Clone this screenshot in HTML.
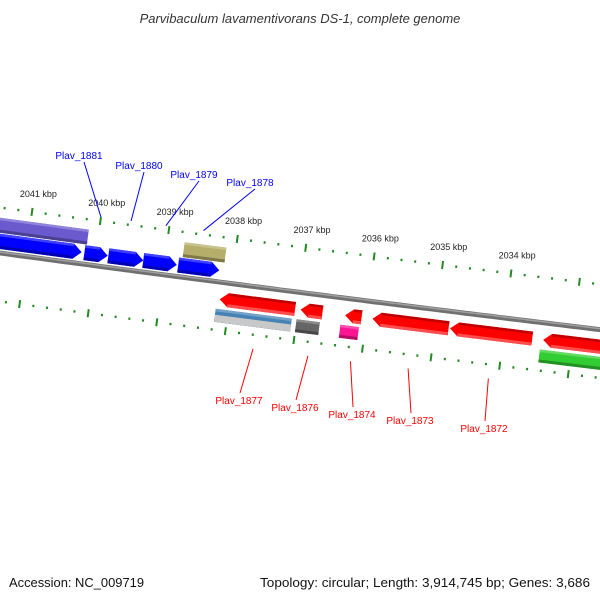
<!DOCTYPE html>
<html><head><meta charset="utf-8">
<style>
html,body{margin:0;padding:0;background:#fff;}
svg{display:block;font-family:"Liberation Sans","DejaVu Sans",sans-serif;}
</style></head>
<body>
<svg id="chart" width="600" height="600" viewBox="0 0 600 600">
<text x="300" y="23" text-anchor="middle" font-size="13" font-style="italic" fill="#333">Parvibaculum lavamentivorans DS-1, complete genome</text>
<text x="9" y="587" font-size="13" fill="#111" textLength="135" lengthAdjust="spacingAndGlyphs">Accession: NC_009719</text>
<text x="260" y="587" font-size="13" fill="#111" textLength="330" lengthAdjust="spacingAndGlyphs">Topology: circular; Length: 3,914,745 bp; Genes: 3,686</text>
<g id="layer"></g>
</svg>
<script>
// ---- data (kbp positions) ----
const fwdLane1Starts = [2041.6, 2040.17, 2039.82, 2039.31, 2038.80];
const fwdLane1Ends   = [2040.21, 2039.83, 2039.31, 2038.82, 2038.20];
const fwdLane2Starts = [2041.6, 2038.75];
const fwdLane2Ends   = [2040.15, 2038.14];
const fwdLane2Colors = ["#6a5acd", "#b5ad6a"];
const revLane1Starts = [2038.14, 2036.96, 2036.31, 2035.91, 2034.78, 2033.42];
const revLane1Ends   = [2037.04, 2036.64, 2036.07, 2034.80, 2033.58, 2032.3];
const revLane2Starts = [2038.18, 2037.00, 2036.36, 2033.45];
const revLane2Ends   = [2037.07, 2036.66, 2036.09, 2032.3];
const revLane2Colors = ["#4682b4", "#666666", "#ff1493", "#32cd32"];
const kbpLabels = [2041, 2040, 2039, 2038, 2037, 2036, 2035, 2034];
const fwdNames = ["Plav_1881", "Plav_1880", "Plav_1879", "Plav_1878"];
const fwdNameKbp = [2040.0, 2039.56, 2039.05, 2038.5];
const revNames = ["Plav_1877", "Plav_1876", "Plav_1874", "Plav_1873", "Plav_1872"];
const revNameKbp = [2037.57, 2036.77, 2036.15, 2035.31, 2034.14];

// ---- geometry ----
const NS = "http://www.w3.org/2000/svg";
const layer = document.getElementById("layer");
function X(k){ return 26 + (2041 - k) * 68.5; }
function Y(x){ return 253 + 0.135*x - 0.0000122*x*x; }
function S(x){ return 0.135 - 0.0000244*x; }
function P(k, d){ const x = X(k), s = S(x), L = Math.sqrt(1+s*s); return [x - s*d/L, Y(x) + d/L]; }
function mk(tag, attrs){ const e = document.createElementNS(NS, tag); for (const a in attrs) e.setAttribute(a, attrs[a]); layer.appendChild(e); return e; }
function pts(a){ return a.map(p => p[0].toFixed(1)+","+p[1].toFixed(1)).join(" "); }
function shade(hex, f){ const n = parseInt(hex.slice(1),16); let r=n>>16,g=(n>>8)&255,b=n&255;
  if (f<0){ r*=1+f; g*=1+f; b*=1+f; } else { r+= (255-r)*f; g+=(255-g)*f; b+=(255-b)*f; }
  return "rgb("+Math.round(r)+","+Math.round(g)+","+Math.round(b)+")"; }

// backbone
const bb = [];
for (let k = 2041.8; k >= 2032.0; k -= 0.1) bb.push(P(k, 0));
const back = mk("polyline", {points: pts(bb), fill: "none", stroke: "#707070", "stroke-width": 5});


const back2 = mk("polyline", {points: pts(bb.map(p=>[p[0],p[1]-1])), fill: "none", stroke: "#a0a0a0", "stroke-width": 1.5});



// ticks
function tickRow(d, name){
  for (let i = 0; i <= 50; i++){
    const k = 2041.6 - i*0.2;
    const big = Math.abs(k - Math.round(k)) < 0.01;
    const a = P(k, d - (big?4:1.2)), b = P(k, d + (big?4:1.2));
    const t = mk("line", {x1:a[0], y1:a[1], x2:b[0], y2:b[1], stroke:"#228b22", "stroke-width": 2});
    
    
  }
}
tickRow(-45, 'upper-tick');
tickRow(48, 'lower-tick');
kbpLabels.forEach(k => {
  const p = P(k, -63);
  const t = mk("text", {x: p[0]+4, y: p[1]+3, "text-anchor":"middle", "font-size": 9, fill:"#222"});
  t.textContent = k + " kbp";
  
  
});

// genes
function gene(k1, k2, d1, d2, color, dir, arrow, name){
  const ah = 0.12;
  let poly;
  if (!arrow){ poly = [P(k1,d1),P(k2,d1),P(k2,d2),P(k1,d2)]; }
  else if (dir > 0){ poly = [P(k1,d1),P(k2+ah,d1),P(k2,(d1+d2)/2),P(k2+ah,d2),P(k1,d2)]; }
  else { poly = [P(k2,d1),P(k1-ah,d1),P(k1,(d1+d2)/2),P(k1-ah,d2),P(k2,d2)]; }
  const g = mk("polygon", {points: pts(poly), fill: color});
  
  
  const a = dir>0 ? k1 : k2, b = dir>0 ? (arrow?k2+ah:k2) : (arrow?k1-ah:k1);
  const hi = mk("polygon", {points: pts([P(a,d1),P(b,d1),P(b,d1+2.5),P(a,d1+2.5)]), fill: shade(color, dir>0?0.25:-0.25)});
  
  
  const lo = mk("polygon", {points: pts([P(a,d2-3),P(b,d2-3),P(b,d2),P(a,d2)]), fill: shade(color, dir>0?-0.3:0.3)});
  
  
}
fwdLane1Starts.forEach((s,i) => gene(s, fwdLane1Ends[i], -19, -4, "#0000ff", 1, true, 'forward-gene'));
fwdLane2Starts.forEach((s,i) => gene(s, fwdLane2Ends[i], -35, -20, fwdLane2Colors[i], 1, false, 'forward-feature'));
revLane1Starts.forEach((s,i) => gene(s, revLane1Ends[i], 10, 24, "#ff0000", -1, true, 'reverse-gene'));
revLane2Starts.forEach((s,i) => {
  gene(s, revLane2Ends[i], 27, 40, revLane2Colors[i], 1, false, 'reverse-feature');
});
{
  const s = revLane2Starts[0], e = revLane2Ends[0];
  const g = mk("polygon", {points: pts([P(s,33),P(e,33),P(e,40),P(s,40)]), fill:"#c8c8c8"});
  
  
}

// labels
function label(name, k, d, lx, ly, color, below){
  const a = P(k, d);
  const l = mk("line", {x1:a[0], y1:a[1], x2:lx + (below?1:5), y2: below ? ly-7 : ly+7, stroke: color, "stroke-width": 1});
  
  
  const t = mk("text", {x: lx, y: ly+4, "text-anchor":"middle", "font-size": 10, fill: color});
  t.textContent = name;
  
  
}
const fwdLabelX = [79, 139, 194, 250], fwdLabelY = [155, 165, 174, 182];
fwdNames.forEach((n,i) => label(n, fwdNameKbp[i], -49, fwdLabelX[i], fwdLabelY[i], "#0000ff", false));
const revLabelX = [239, 295, 352, 410, 484], revLabelY = [400, 407, 414, 420, 428];
revNames.forEach((n,i) => label(n, revNameKbp[i], 62, revLabelX[i], revLabelY[i], "#ff0000", true));
</script>
</body></html>
